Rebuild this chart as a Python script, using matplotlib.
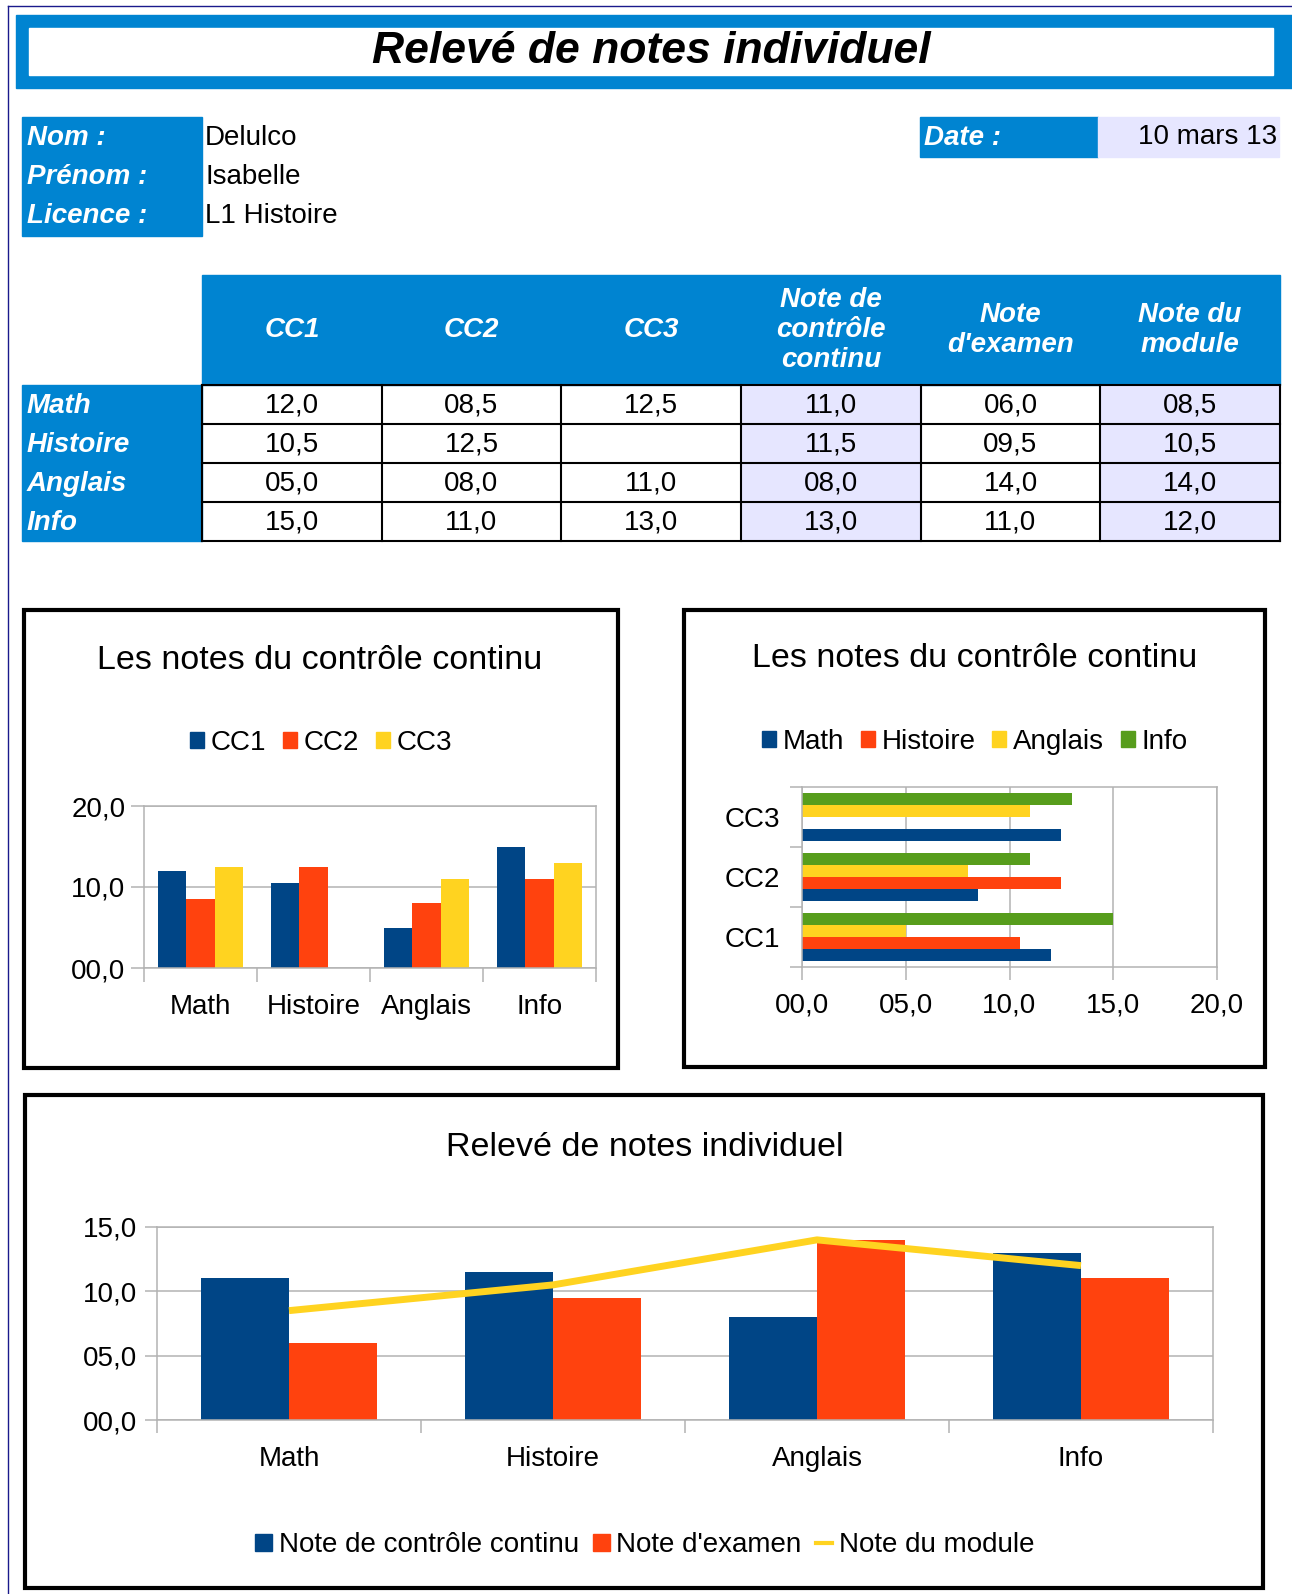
import numpy as np
import matplotlib
matplotlib.use("Agg")
import matplotlib.pyplot as plt
from matplotlib.patches import Rectangle, Patch
from matplotlib.lines import Line2D

plt.rcParams['font.family'] = ['Liberation Sans', 'DejaVu Sans']

W, H = 1292, 1594

# --- data ---
matieres = ["Math", "Histoire", "Anglais", "Info"]
controles = ["CC1", "CC2", "CC3"]
cc1 = [12.0, 10.5, 5.0, 15.0]
cc2 = [8.5, 12.5, 8.0, 11.0]
cc3 = [12.5, np.nan, 11.0, 13.0]
note_cc = [11.0, 11.5, 8.0, 13.0]
note_exam = [6.0, 9.5, 14.0, 11.0]
note_module = [8.5, 10.5, 14.0, 12.0]

headers = ["CC1", "CC2", "CC3", "Note de\ncontrôle\ncontinu", "Note\nd'examen", "Note du\nmodule"]
info_labels = ["Nom :", "Prénom :", "Licence :"]
info_values = ["Delulco", "Isabelle", "L1 Histoire"]
date_label = "Date :"
date_value = "10 mars 13"
main_title = "Relevé de notes individuel"
cc_title = "Les notes du contrôle continu"
bottom_legend = ["Note de contrôle continu", "Note d'examen", "Note du module"]
ticks_cc = [0, 10, 20]
ticks_cc_h = [0, 5, 10, 15, 20]
ticks_module = [0, 5, 10, 15]

BLUE = "#0084d1"
LAVENDER = "#e6e6ff"
C_BLUE = "#004586"
C_ORANGE = "#ff420e"
C_YELLOW = "#ffd320"
C_GREEN = "#579d1c"
GRID = "#b3b3b3"
PX = 72 / 100  # points per pixel


def fr(v):
    return f"{v:04.1f}".replace(".", ",")


def frac(x0, y0, x1, y1):
    return [x0 / W, 1 - y1 / H, (x1 - x0) / W, (y1 - y0) / H]


def style_axes(ax):
    for s in ax.spines.values():
        s.set_color(GRID)
        s.set_linewidth(1.1)
    ax.set_axisbelow(True)
    ax.tick_params(colors=GRID, labelcolor="black", labelsize=20, width=1.1)


def legend_at(handles, labels, cx, cy, **kw):
    # legend centred on a pixel position of the page
    opts = dict(loc="center", bbox_to_anchor=(cx / W, 1 - cy / H),
                bbox_transform=fig.transFigure, ncol=len(labels), frameon=False,
                fontsize=20, handlelength=0.5, handleheight=0.5,
                handletextpad=0.25, columnspacing=0.6)
    opts.update(kw)
    return fig.legend(handles, labels, **opts)


fig = plt.figure(figsize=(W / 100, H / 100), dpi=100)

# background axes in pixel coordinates (origin top-left)
bg = fig.add_axes([0, 0, 1, 1], zorder=0)
bg.set_xlim(0, W)
bg.set_ylim(H, 0)
bg.axis("off")

# page border
bg.plot([8, 8], [6, H], color="#1a1a8c", lw=1)
bg.plot([8, W], [6, 6], color="#1a1a8c", lw=1)

# title banner
bg.add_patch(Rectangle((16, 15), W - 16, 73, color=BLUE))
bg.add_patch(Rectangle((29, 28), 1244, 47, color="white"))
bg.text(651, 51, main_title, fontsize=32, fontweight="bold", style="italic",
        ha="center", va="center")

# identity block
bg.add_patch(Rectangle((22, 117), 180, 119, color=BLUE))
for i, (lab, val) in enumerate(zip(info_labels, info_values)):
    y = 138 + i * 39
    bg.text(27, y, lab, fontsize=20, fontweight="bold", style="italic",
            color="white", ha="left", va="center")
    bg.text(205, y, val, fontsize=20, ha="left", va="center")

bg.add_patch(Rectangle((920, 117), 178, 40, color=BLUE))
bg.add_patch(Rectangle((1098, 117), 181, 40, color=LAVENDER))
bg.text(924, 138, date_label, fontsize=20, fontweight="bold", style="italic",
        color="white", ha="left", va="center")
bg.text(1277, 137, date_value, fontsize=20, ha="right", va="center")

# grades table
col_x = np.linspace(202, 1280, 7)
row_y = np.linspace(385, 541, 5)
columns = [cc1, cc2, cc3, note_cc, note_exam, note_module]
bg.add_patch(Rectangle((202, 275), 1078, 110, color=BLUE))
bg.add_patch(Rectangle((22, 385), 180, 156, color=BLUE))
for c in (3, 5):
    bg.add_patch(Rectangle((col_x[c], 385), col_x[c + 1] - col_x[c], 156, color=LAVENDER))
for c, head in enumerate(headers):
    xc = (col_x[c] + col_x[c + 1]) / 2
    bg.text(xc, 330, head, fontsize=20, fontweight="bold", style="italic",
            color="white", ha="center", va="center", linespacing=1.2)
    for r, v in enumerate(columns[c]):
        if np.isnan(v):
            continue
        yc = (row_y[r] + row_y[r + 1]) / 2
        bg.text(xc, yc + 1, fr(v), fontsize=20, ha="center", va="center")
for r, name in enumerate(matieres):
    yc = (row_y[r] + row_y[r + 1]) / 2
    bg.text(27, yc + 1, name, fontsize=20, fontweight="bold", style="italic",
            color="white", ha="left", va="center")
for y in row_y:
    bg.plot([col_x[0], col_x[-1]], [y, y], color="black", lw=1.5)
for x in col_x:
    bg.plot([x, x], [row_y[0], row_y[-1]], color="black", lw=1.5)

# chart frames
for (x0, y0, x1, y1) in [(24, 610, 618, 1068), (684, 610, 1265, 1067), (25, 1095, 1263, 1588)]:
    bg.add_patch(Rectangle((x0, y0), x1 - x0, y1 - y0, fill=False, ec="black", lw=3))

# --- chart 1 : CC per subject ---
ax1 = fig.add_axes(frac(144, 806, 596, 968), zorder=2)
x = np.arange(len(matieres))
for i, (vals, col) in enumerate(zip([cc1, cc2, cc3], [C_BLUE, C_ORANGE, C_YELLOW])):
    ax1.bar(x + (i - 1) * 0.25, vals, 0.25, color=col, label=controles[i])
ax1.set_xlim(-0.5, 3.5)
ax1.set_ylim(0, 20)
ax1.set_yticks(ticks_cc)
ax1.set_yticklabels([fr(t) for t in ticks_cc])
ax1.set_xticks(x)
ax1.set_xticklabels(matieres)
ax1.set_xticks(np.arange(-0.5, 4), minor=True)
ax1.grid(axis="y", color=GRID, lw=1.1)
style_axes(ax1)
ax1.tick_params(axis="x", which="major", length=0, pad=19)
ax1.tick_params(axis="x", which="minor", length=14 * PX, colors=GRID, width=1.1)
ax1.tick_params(axis="y", length=13 * PX, pad=4)
bg.text(320, 660, cc_title, fontsize=24.5, ha="center", va="center")
legend_at([Patch(color=c) for c in [C_BLUE, C_ORANGE, C_YELLOW]], controles, 321, 743)

# --- chart 2 : subjects per CC (horizontal) ---
ax2 = fig.add_axes(frac(802, 787, 1217, 967), zorder=2)
y = np.arange(len(controles))
by_cc = np.array([cc1, cc2, cc3])
for j, (name, col) in enumerate(zip(matieres, [C_BLUE, C_ORANGE, C_YELLOW, C_GREEN])):
    ax2.barh(y + (j - 1.5) * 0.2, by_cc[:, j], 0.2, color=col, label=name)
ax2.set_ylim(-0.5, 2.5)
ax2.set_xlim(0, 20)
ax2.set_xticks(ticks_cc_h)
ax2.set_xticklabels([fr(t) for t in ticks_cc_h])
ax2.set_yticks(y)
ax2.set_yticklabels(controles)
ax2.set_yticks(np.arange(-0.5, 3), minor=True)
ax2.grid(axis="x", color=GRID, lw=1.1)
style_axes(ax2)
ax2.tick_params(axis="y", which="major", length=0, pad=16)
ax2.tick_params(axis="y", which="minor", length=12 * PX, colors=GRID, width=1.1)
ax2.tick_params(axis="x", length=13 * PX, pad=9)
bg.text(975, 658, cc_title, fontsize=24.5, ha="center", va="center")
legend_at([Patch(color=c) for c in [C_BLUE, C_ORANGE, C_YELLOW, C_GREEN]], matieres, 975, 742)

# --- chart 3 : summary ---
ax3 = fig.add_axes(frac(157, 1227, 1213, 1420), zorder=2)
ax3.bar(x - 1 / 6, note_cc, 1 / 3, color=C_BLUE)
ax3.bar(x + 1 / 6, note_exam, 1 / 3, color=C_ORANGE)
ax3.plot(x, note_module, color=C_YELLOW, lw=5, solid_capstyle="butt")
ax3.set_xlim(-0.5, 3.5)
ax3.set_ylim(0, 15)
ax3.set_yticks(ticks_module)
ax3.set_yticklabels([fr(t) for t in ticks_module])
ax3.set_xticks(x)
ax3.set_xticklabels(matieres)
ax3.set_xticks(np.arange(-0.5, 4), minor=True)
ax3.grid(axis="y", color=GRID, lw=1.1)
style_axes(ax3)
ax3.tick_params(axis="x", which="major", length=0, pad=19)
ax3.tick_params(axis="x", which="minor", length=13 * PX, colors=GRID, width=1.1)
ax3.tick_params(axis="y", length=12 * PX, pad=6)
bg.text(645, 1147, main_title, fontsize=24.5, ha="center", va="center")
h3 = [Patch(color=C_BLUE), Patch(color=C_ORANGE), Line2D([], [], color=C_YELLOW, lw=3)]
legend_at(h3, bottom_legend, 645, 1545, handlelength=0.6, handleheight=0.55, columnspacing=0.5)

fig.savefig("out.png", dpi=100)
